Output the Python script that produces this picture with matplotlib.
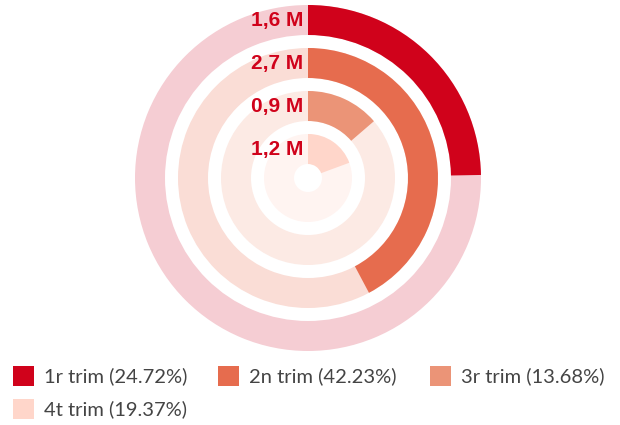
import matplotlib.pyplot as plt
from matplotlib.patches import Wedge, Rectangle

# data
labels = ["1,6 M", "2,7 M", "0,9 M", "1,2 M"]
legend_names = ["1r trim", "2n trim", "3r trim", "4t trim"]
shares = [24.72, 42.23, 13.68, 19.37]
colors = ["#D0021B", "#E66C4E", "#EB9477", "#FFD6CA"]
bg_colors = ["#F5CDD3", "#FADDD6", "#FCEAE4", "#FFF4F1"]

fig = plt.figure(figsize=(6.2, 4.25), dpi=100)
ax = fig.add_axes([0, 0, 1, 1])
ax.set_xlim(0, 620)
ax.set_ylim(425, 0)
ax.set_aspect("equal")
ax.axis("off")

cx, cy = 308, 178
outer = 173
width = 30
pitch = 43

for i, share in enumerate(shares):
    r = outer - i * pitch
    # background ring
    ax.add_patch(Wedge((cx, cy), r, 0, 360, width=width, color=bg_colors[i], lw=0))
    # value arc, clockwise from 12 o'clock (y axis is inverted)
    start = -90
    end = -90 + share / 100 * 360
    ax.add_patch(Wedge((cx, cy), r, start, end, width=width, color=colors[i], lw=0))
    ax.text(cx - 5, cy - (r - width / 2), labels[i], ha="right", va="center",
            fontsize=15, fontweight="bold", color="#D0021B", family="Liberation Sans")

# legend
leg_pos = [(13, 376), (218, 376), (430, 376), (13, 409)]
for i, (lx, ly) in enumerate(leg_pos):
    ax.add_patch(Rectangle((lx, ly - 10), 21, 20, color=colors[i], lw=0))
    ax.text(lx + 31, ly, f"{legend_names[i]} ({shares[i]:.2f}%)", ha="left", va="center",
            fontsize=14.5, color="#444444", family="Lato")

fig.savefig("out.png", dpi=100)
